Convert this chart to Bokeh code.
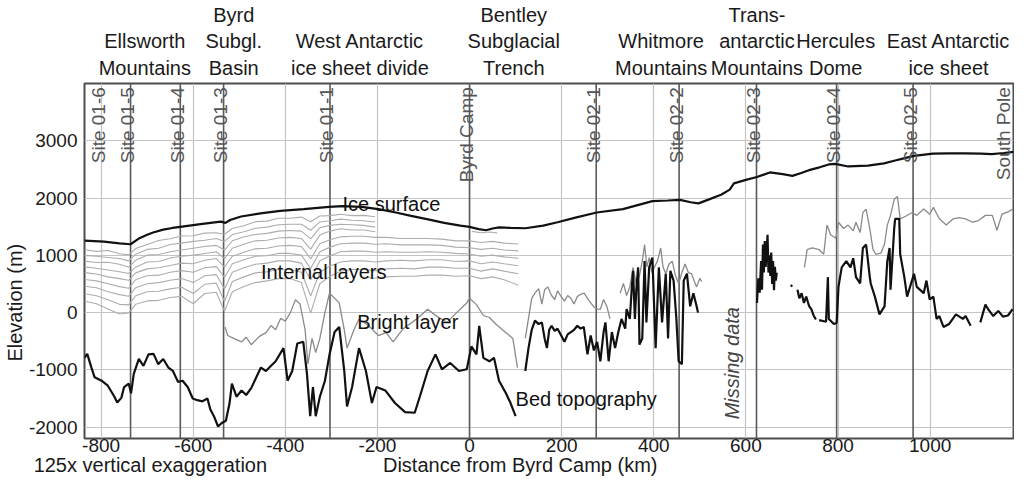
import numpy as np
from bokeh.plotting import figure
from bokeh.models import Range1d, Label, Span, LinearAxis, FixedTicker
from bokeh.embed import file_html
from bokeh.resources import INLINE

FONT = "Liberation Sans"

# ---------------- data ----------------
X_TICKS = [-800, -600, -400, -200, 0, 200, 400, 600, 800, 1000]
Y_TICKS = [-2000, -1000, 0, 1000, 2000, 3000]

SITE_NAMES = ["Site 01-6", "Site 01-5", "Site 01-4", "Site 01-3", "Site 01-1",
              "Byrd Camp", "Site 02-1", "Site 02-2", "Site 02-3", "Site 02-4",
              "Site 02-5", "South Pole"]
SITE_KM = [-800, -736, -628, -534, -303, 0, 275, 455, 623, 797, 963, 1165]
SITE_LINE = [False, True, True, True, True, True, True, True, True, True, True, False]

REGION_TEXT = [["Ellsworth", "Mountains"], ["Byrd", "Subgl.", "Basin"],
               ["West Antarctic", "ice sheet divide"], ["Bentley", "Subglacial", "Trench"],
               ["Whitmore", "Mountains"], ["Trans-", "antarctic", "Mountains"],
               ["Hercules", "Dome"], ["East Antarctic", "ice sheet"]]
REGION_KM = [-705, -512, -238, 96, 416, 624, 795, 1040]

BOTTOM_TEXT = ["125x vertical exaggeration", "Distance from Byrd Camp (km)"]
BOTTOM_KM = [-693, 110]

ICE_KM = [-836, -794, -760, -736, -719, -700, -687, -665, -645, -628, -580, -540, -530, -520,
          -496, -450, -411, -360, -305, -276, -234, -198, -160, -127, -90, -55, -20, 0, 20, 36,
          50, 64, 90, 121, 160, 191, 230, 276, 333, 365, 397, 430, 457, 480, 497, 520, 546,
          565, 574, 600, 624, 652, 680, 701, 720, 737, 760, 780, 794, 822, 865, 900, 922, 945,
          965, 1006, 1040, 1076, 1110, 1134, 1160, 1181]
ICE_M = [1260, 1240, 1210, 1195, 1290, 1360, 1400, 1450, 1480, 1500, 1550, 1590, 1570, 1620,
         1680, 1740, 1780, 1810, 1850, 1860, 1850, 1810, 1750, 1690, 1630, 1570, 1520, 1500,
         1460, 1440, 1470, 1490, 1480, 1475, 1520, 1580, 1660, 1750, 1810, 1880, 1950, 1960,
         1970, 1930, 1910, 1980, 2060, 2150, 2260, 2320, 2370, 2450, 2420, 2390, 2440, 2490,
         2540, 2590, 2600, 2555, 2570, 2610, 2655, 2700, 2740, 2780, 2785, 2785, 2780, 2770,
         2790, 2810]

BED1_KM = [-836, -830, -821, -814, -799, -786, -771, -765, -756, -750, -740, -735, -729, -718,
           -708, -697, -686, -676, -665, -654, -644, -633, -623, -612, -601, -591, -580, -569,
           -563, -555, -546, -538, -529, -521, -516, -506, -495, -485, -474, -463, -453, -442,
           -431, -421, -404, -395, -385, -374, -361, -353, -346, -340, -334, -325, -314, -304,
           -293, -283, -272, -266, -255, -240, -225, -212, -202, -183, -162, -140, -119, -108,
           -91, -74, -60, -42, -23, -6, 4, 15, 21, 30, 43, 53, 64, 79, 89, 100]
BED1_M = [-790, -720, -960, -1130, -1190, -1270, -1470, -1570, -1490, -1300, -1240, -1410,
          -1070, -810, -930, -730, -720, -900, -810, -960, -1020, -1210, -1190, -1300, -1500,
          -1530, -1550, -1500, -1690, -1810, -1990, -1930, -1890, -1580, -1240, -1470, -1360,
          -1440, -1320, -1130, -960, -1020, -930, -850, -620, -1190, -1020, -540, -510, -1070,
          -1810, -1300, -1810, -1470, -1190, -730, -340, -250, -1020, -1640, -1300, -620,
          -1020, -1580, -1300, -1360, -1580, -1740, -1750, -1470, -1020, -730, -990, -880,
          -1020, -990, -590, -730, -230, -790, -850, -790, -1190, -1410, -1580, -1810]

BED2_KM = [121, 128, 135, 142, 150, 157, 163, 168, 173, 178, 185, 191, 199, 206, 213, 220, 227,
           234, 241, 248, 256, 263, 270, 277, 284, 291, 295, 302, 309, 316, 323, 330, 338, 341,
           348, 352, 355, 359, 362, 366, 369, 375, 380, 384, 390, 397, 404, 411, 418, 426, 431,
           436, 443, 449, 454, 461, 465, 472, 479, 486, 493, 496]
BED2_M = [-1020, -620, -300, -140, -200, -170, -450, -620, -300, -230, -320, -280, -400, -510,
          -380, -340, -300, -230, -280, -250, -730, -400, -660, -510, -850, -340, -170, -850,
          -340, -620, -340, -110, -280, 60, -110, 400, 730, -110, 400, 790, -560, -450, 900,
          -170, 790, 960, -620, 790, -170, 680, -450, 730, 560, -100, -850, -900, 560, 680, 110,
          340, 110, 0]

BED3_KM = [624, 627, 630, 633, 635, 637, 639, 641, 643, 645, 647, 649, 651, 653, 655, 657, 659,
           661, 663, 665, 667]
BED3_M = [170, 600, 350, 900, 400, 1190, 700, 1250, 800, 1100, 1360, 700, 1000, 640, 1050, 500,
          900, 390, 800, 560, 700]

BED4_KM = [697, 701]
BED4_M = [480, 460]

BED5_KM = [712, 716, 721, 726, 731, 737, 742, 747, 752]
BED5_M = [400, 250, 340, 170, 280, 120, 60, -50, -120]

BED6_KM = [759, 774, 778, 780, 791, 797, 801, 808, 818, 827, 833, 839, 848, 854, 861, 869, 871,
           880, 890, 901, 907, 912, 914, 922, 924, 933, 935, 944, 950, 965, 971, 986, 992, 999,
           1007, 1014, 1020, 1029, 1041, 1056, 1071, 1077, 1088]
BED6_M = [-130, -160, 620, -110, -200, -180, 450, 790, 900, 790, 950, 620, 510, 1130, 1190, 620,
          510, 280, -30, 110, 900, 1130, 400, 1470, 1640, 1640, 1020, 620, 280, 680, 450, 340,
          560, 230, 280, -110, -60, -250, -200, -30, -110, -60, -230]

BED7_KM = [1109, 1120, 1126, 1137, 1148, 1158, 1169, 1179]
BED7_M = [-170, 140, 60, -60, 30, -70, -50, 60]

BRIGHT1_KM = [-531, -525, -512, -495, -485, -474, -457, -442, -431, -421, -410, -400, -389, -378,
              -368, -357, -351, -342, -334, -325, -314, -304, -283, -272, -266, -251, -240, -219,
              -198, -181, -166, -144, -113, -91, -70, -49, -28, -6, 0, 15, 30, 43, 57, 79, 94, 104]
BRIGHT1_M = [-250, -400, -450, -510, -430, -560, -420, -350, -225, -300, -100, -150, 0, 225, 150,
             -300, -900, -450, -700, -450, 0, 340, 170, -300, -620, -300, -110, -230, -400, -350,
             -510, -280, -100, 60, -70, -170, 0, 170, 250, 140, -50, -85, -200, -350, -450, -960]

BRIGHT2_KM = [121, 128, 135, 142, 150, 157, 163, 170, 178, 185, 191, 199, 206, 213, 220, 227,
              234, 241, 249, 256, 263, 270, 277, 284, 291, 298, 305]
BRIGHT2_M = [-450, -100, 250, 340, 420, 150, 400, 450, 300, 230, 380, 280, 200, 300, 250, 150,
             280, 320, 340, 250, 170, 100, 60, 60, 230, 110, -110]

BRIGHT3_KM = [327, 334, 341, 348, 355, 362, 369, 375, 380, 385, 390, 396, 401, 408, 415, 420,
              426, 433, 440, 447, 454, 461, 468, 475, 482, 488, 493, 500, 504]
BRIGHT3_M = [340, 510, 300, 450, 790, 500, 650, 900, 1190, 800, 960, 700, 790, 900, 1130, 800,
             680, 850, 900, 650, 510, 700, 850, 700, 680, 550, 450, 600, 540]

GRAY_EAST_KM = [727, 733, 744, 759, 769, 776, 784, 795, 801, 812, 822, 833, 839, 848, 854, 861,
                869, 876, 882, 893, 901, 907, 914, 922, 929, 935, 946, 961, 971, 986, 999, 1007,
                1020, 1035, 1050, 1063, 1077, 1092, 1105, 1120, 1135, 1145, 1156, 1169, 1179]
GRAY_EAST_M = [790, 1100, 1130, 1100, 1020, 1530, 1360, 1300, 1580, 1470, 1530, 1430, 1580, 1400,
               1750, 1810, 1470, 1100, 1020, 1040, 1200, 1530, 1700, 1980, 2030, 1640, 1680,
               1750, 1700, 1810, 1720, 1840, 1640, 1530, 1640, 1660, 1640, 1580, 1610, 1700,
               1700, 1440, 1720, 1760, 1810]

LAYER_KM = [-836, -810, -785, -760, -740, -725, -700, -675, -650, -625, -600, -575, -550, -532,
            -515, -490, -465, -440, -415, -390, -365, -345, -325, -303, -280, -255, -230, -205,
            -180, -150, -120, -90, -60, -30, 0, 25, 50, 75, 106]
N = None
L1 = [1100, 1070, 1085, 1030, 1010, 1120, 1190, 1260, 1290, 1340, 1345, 1390, 1395, 1370, 1470,
      1520, 1590, 1600, 1650, 1650, 1670, 1590, 1690, 1695, 1720, 1695, 1700, 1675,
      N, N, N, N, N, N, N, N, N, N, N]
L2 = [1000, 985, 965, 945, 905, 1020, 1105, 1125, 1190, 1215, 1245, 1265, 1295, 1245, 1365,
      1415, 1475, 1495, 1535, 1545, 1545, 1440, 1585, 1605, 1635, 1615, 1605, 1585,
      N, N, N, N, N, N, N, N, N, N, N]
L3 = [900, 875, 880, 845, 795, 915, 1005, 1015, 1065, 1095, 1125, 1155, 1175, 1095, 1255, 1325,
      1365, 1385, 1425, 1435, 1425, 1290, 1485, 1525, 1545, 1535, 1525, 1495,
      N, N, N, N, N, N, N, N, N, N, N]
L4 = [800, 775, 745, 715, 685, 795, 885, 895, 955, 985, 1005, 1035, 1065, 945, 1125, 1195, 1255,
      1265, 1305, 1315, 1295, 1110, 1355, 1425, 1465, 1445, 1445, 1415,
      N, N, N, N, N, N, N, N, N, N, N]
L5 = [700, 675, 625, 595, 565, 695, 765, 785, 825, 865, 855, 915, 945, 795, 985, 1055, 1115,
      1125, 1165, 1175, 1155, 940, 1205, 1275, 1325, 1335, 1335, 1315, 1315, 1295, 1295, 1295,
      1285, 1255, 1255, 1225, 1245, 1215, 1200]
L6 = [580, 555, 505, 455, 425, 575, 645, 655, 705, 735, 705, 785, 805, 615, 855, 925, 985, 995,
      1035, 1035, 1005, 770, 1065, 1145, 1205, 1215, 1215, 1195, 1205, 1185, 1185, 1185, 1175,
      1145, 1135, 1105, 1125, 1095, 1080]
L7 = [460, 435, 365, 315, 285, 435, 505, 525, 565, 595, 525, 645, 665, 415, 705, 785, 845, 865,
      905, 905, 865, 570, 905, 995, 1065, 1075, 1075, 1055, 1065, 1055, 1055, 1065, 1055, 1035,
      1025, 985, 1005, 975, 950]
L8 = [330, 295, 225, 145, 135, 295, 365, 375, 415, 445, 335, 495, 515, 195, 545, 625, 695, 715,
      755, 755, 705, 290, 705, 815, 885, 905, 905, 885, 905, 915, 905, 925, 925, 895, 905, 855,
      885, 855, 820]
L9 = [200, 155, 65, -25, -5, 145, 205, 215, 265, 285, 155, 335, 355, 25, 365, 455, 525, 555, 595,
      595, 525, -10, 505, 635, 725, 755, 755, 735, 765, 775, 765, 795, 795, 775, 775, 725, 765,
      725, 680]
L10 = [N, N, N, N, N, N, N, N, N, N, N, N, N, N, N, N, N, N, N, N, N, N, N, N, N, N,
       620, 600, 625, 635, 635, 655, 655, 635, 645, 595, 625, 575, 480]
LAYERS = [L1, L2, L3, L4, L5, L6, L7, L8, L9, L10]
SHORT_LAYER_KM = [5, 25, 45, 60]
SHORT_LAYER_M = [1420, 1395, 1410, 1390]

# ---------------- figure ----------------
p = figure(width=1014, height=478, output_backend="svg", toolbar_location=None,
           x_range=Range1d(-836, 1181), y_range=Range1d(-2200, 4005))
p.min_border = 0
p.min_border_left = 72
p.min_border_right = 1
p.min_border_top = 0
p.min_border_bottom = 0
p.background_fill_color = "white"
p.border_fill_color = "white"
p.outline_line_color = "#4d4d4d"
p.outline_line_width = 2


def style_axis(ax, size):
    ax.major_tick_line_color = None
    ax.minor_tick_line_color = None
    ax.major_tick_out = 0
    ax.major_tick_in = 0
    ax.axis_line_color = None
    ax.axis_label_standoff = 0
    ax.major_label_text_font = FONT
    ax.major_label_text_font_size = size
    ax.major_label_text_color = "#1a1a1a"


style_axis(p.xaxis[0], "19px")
style_axis(p.yaxis[0], "19px")
p.xaxis.ticker = X_TICKS
p.yaxis.ticker = Y_TICKS
p.xaxis.major_label_overrides = {t: str(t) for t in X_TICKS}
p.yaxis.major_label_overrides = {t: str(t) for t in Y_TICKS}
p.xaxis.major_label_standoff = 0
p.yaxis.major_label_standoff = 7
p.yaxis.axis_label = "Elevation (m)" + "\u00a0" * 15
p.yaxis.axis_label_text_font = FONT
p.yaxis.axis_label_text_font_size = "20px"
p.yaxis.axis_label_text_font_style = "normal"
p.yaxis.axis_label_text_color = "#1a1a1a"

# region names above the frame
top_ax = LinearAxis(ticker=FixedTicker(ticks=REGION_KM),
                    major_label_overrides={k: "\n".join(v) for k, v in zip(REGION_KM, REGION_TEXT)})
style_axis(top_ax, "20px")
top_ax.major_label_standoff = 5
p.add_layout(top_ax, "above")

# bottom texts
bot_ax = LinearAxis(ticker=FixedTicker(ticks=BOTTOM_KM),
                    major_label_overrides={k: t for k, t in zip(BOTTOM_KM, BOTTOM_TEXT)})
style_axis(bot_ax, "20px")
bot_ax.major_label_standoff = -1
p.add_layout(bot_ax, "below")

p.xgrid.ticker = X_TICKS
p.ygrid.ticker = Y_TICKS
p.xgrid.grid_line_color = "#c4c4c4"
p.ygrid.grid_line_color = "#c4c4c4"
p.xgrid.grid_line_width = 1.2
p.ygrid.grid_line_width = 1.2

# site lines
for km, show in zip(SITE_KM, SITE_LINE):
    if show:
        p.add_layout(Span(location=km, dimension="height", line_color="#5a5a5a",
                          line_width=1.6, level="underlay"))

# internal layers
for lay in LAYERS:
    p.line(LAYER_KM, np.array(lay, dtype=float), line_color="#adadad", line_width=1.1)
p.line(SHORT_LAYER_KM, SHORT_LAYER_M, line_color="#adadad", line_width=1.1)

# bright layer / grey reflectors
for xs, ys in [(BRIGHT1_KM, BRIGHT1_M), (BRIGHT2_KM, BRIGHT2_M), (BRIGHT3_KM, BRIGHT3_M),
               (GRAY_EAST_KM, GRAY_EAST_M)]:
    p.line(xs, ys, line_color="#8a8a8a", line_width=1.3)

# bed topography
for xs, ys in [(BED1_KM, BED1_M), (BED2_KM, BED2_M), (BED3_KM, BED3_M), (BED4_KM, BED4_M),
               (BED5_KM, BED5_M), (BED6_KM, BED6_M), (BED7_KM, BED7_M)]:
    p.line(xs, ys, line_color="#111111", line_width=2.2)

# ice surface
p.line(ICE_KM, ICE_M, line_color="#111111", line_width=2.2)

# site labels
for name, km in zip(SITE_NAMES, SITE_KM):
    p.add_layout(Label(x=km, y=3940, text=name, angle=np.pi / 2, text_align="right",
                       text_baseline="alphabetic", x_offset=-3, text_font=FONT,
                       text_font_size="19px", text_color="#555555"))

# annotations in plot
for t, xx, yy in [("Ice surface", -276, 1893), ("Internal layers", -453, 712),
                  ("Bright layer", -244, -170), ("Bed topography", 100, -1514)]:
    p.add_layout(Label(x=xx, y=yy, text=t, text_align="left", text_baseline="alphabetic",
                       text_font=FONT, text_font_size="20px", text_color="#111111"))
p.add_layout(Label(x=570, y=-1865, text="Missing data", angle=np.pi / 2, text_align="left",
                   text_baseline="alphabetic", text_font=FONT, text_font_size="20px",
                   text_font_style="italic", text_color="#444444"))

open("out.html", "w").write(file_html(p, INLINE))
